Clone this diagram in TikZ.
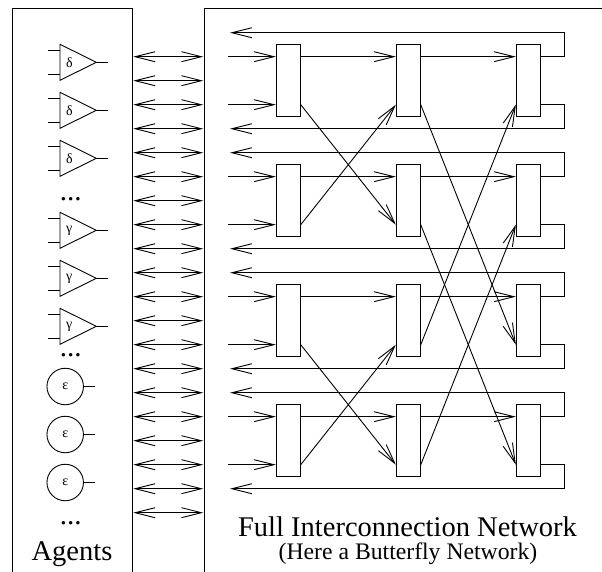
\documentclass[tikz,border=0pt]{standalone}
\usepackage{fontspec}
\setmainfont{Liberation Serif}
\usetikzlibrary{arrows.meta,calc}

\begin{document}
\begin{tikzpicture}[x=1pt,y=-1pt,line width=0.9pt,
  tip/.style={-{Straight Barb[length=20pt,width=10pt,line width=0.9pt]}},
  dbl/.style={{Straight Barb[length=20pt,width=10pt,line width=0.9pt]}-{Straight Barb[length=20pt,width=10pt,line width=0.9pt]}},
  sw/.style={draw,rectangle,minimum width=24pt,minimum height=72pt,inner sep=0pt},
  agent/.style={draw,circle,minimum size=36.5pt,inner sep=0pt,font=\fontsize{14}{14}\selectfont},
  glabel/.style={inner sep=0pt,font=\fontsize{14}{14}\selectfont},
  dots/.style={inner sep=0pt,font=\fontsize{29}{29}\selectfont},
  bigtext/.style={anchor=base,inner sep=0pt,font=\fontsize{28.5}{30}\selectfont},
  subtext/.style={anchor=base,inner sep=0pt,font=\fontsize{23.7}{26}\selectfont}]
\useasboundingbox (0,0) rectangle (602,571);

% the two frames, open at the bottom
\draw (12.3,575) -- (12.3,8.3) -- (132.3,8.3) -- (132.3,575);
\draw (606,8.3) -- (204,8.3) -- (204,575);

% links between the agents and the network
\foreach \k in {0,...,19} {
  \coordinate (aL\k) at (133.3,56.7+24*\k);
  \coordinate (aR\k) at (203.3,56.7+24*\k);
  \draw[dbl] (aL\k) -- (aR\k);
}

% gate agents (delta and gamma)
\foreach \c/\n/\lab in {62.3/d1/δ,110.3/d2/δ,158.3/d3/δ,
                        230.3/g1/γ,278.3/g2/γ,326.3/g3/γ} {
  \draw (60,\c-18) -- (96.3,\c) -- (60,\c+18) -- cycle;
  \draw (48.3,\c-12) -- (60,\c-12);
  \draw (48.3,\c+12) -- (60,\c+12);
  \draw (96.3,\c) -- (107.7,\c);
  \node[glabel] (\n) at (69.3,\c) {\lab};
}

% epsilon agents
\foreach \c/\n in {386.5/e1,434.5/e2,482.5/e3} {
  \node[agent] (\n) at (65.2,\c) {ε};
  \draw (\n.east) -- (95,\c);
}

\node[dots] (dA) at (70.8,199.3) {...};
\node[dots] (dB) at (70.8,355) {...};
\node[dots] (dC) at (70.8,523.3) {...};

% butterfly switches: three stages of four
\foreach \s/\x in {1/288.3,2/408.3,3/528.3}
  \foreach \g in {1,2,3,4}
    \node[sw] (s\s\g) at (\x,80.7+120*\g-120) {};

% inputs into the first stage and returns from the last stage
\foreach \g in {1,2,3,4} {
  \coordinate (inA\g) at (228.3,56.7+120*\g-120);
  \coordinate (inB\g) at (228.3,104.7+120*\g-120);
  \coordinate (retA\g) at (230,32.7+120*\g-120);
  \coordinate (retB\g) at (230,128.7+120*\g-120);
  \draw[tip] (inA\g) -- (s1\g.west |- inA\g);
  \draw[tip] (inB\g) -- (s1\g.west |- inB\g);
  \draw[tip] ($(s3\g.east)+(0,-24)$) -- ++(24,0) |- (retA\g);
  \draw[tip] ($(s3\g.east)+(0,24)$) -- ++(24,0) |- (retB\g);
  % straight links
  \draw[tip] ($(s1\g.east)+(0,-24)$) -- ($(s2\g.west)+(0,-24)$);
  \draw[tip] ($(s2\g.east)+(0,-24)$) -- ($(s3\g.west)+(0,-24)$);
}

% crossing links
\foreach \a/\b in {1/2,2/1,3/4,4/3}
  \draw[tip] ($(s1\a.east)+(0,24)$) -- ($(s2\b.west)+(0,24)$);
\foreach \a/\b in {1/3,3/1,2/4,4/2}
  \draw[tip] ($(s2\a.east)+(0,24)$) -- ($(s3\b.west)+(0,24)$);

% captions
\node[bigtext] (cap) at (407.5,536.7) {Full Interconnection Network};
\node[subtext] (sub) at (408,559.3) {(Here a Butterfly Network)};
\node[bigtext] (agents) at (72,560) {Agents};
\end{tikzpicture}
\end{document}
